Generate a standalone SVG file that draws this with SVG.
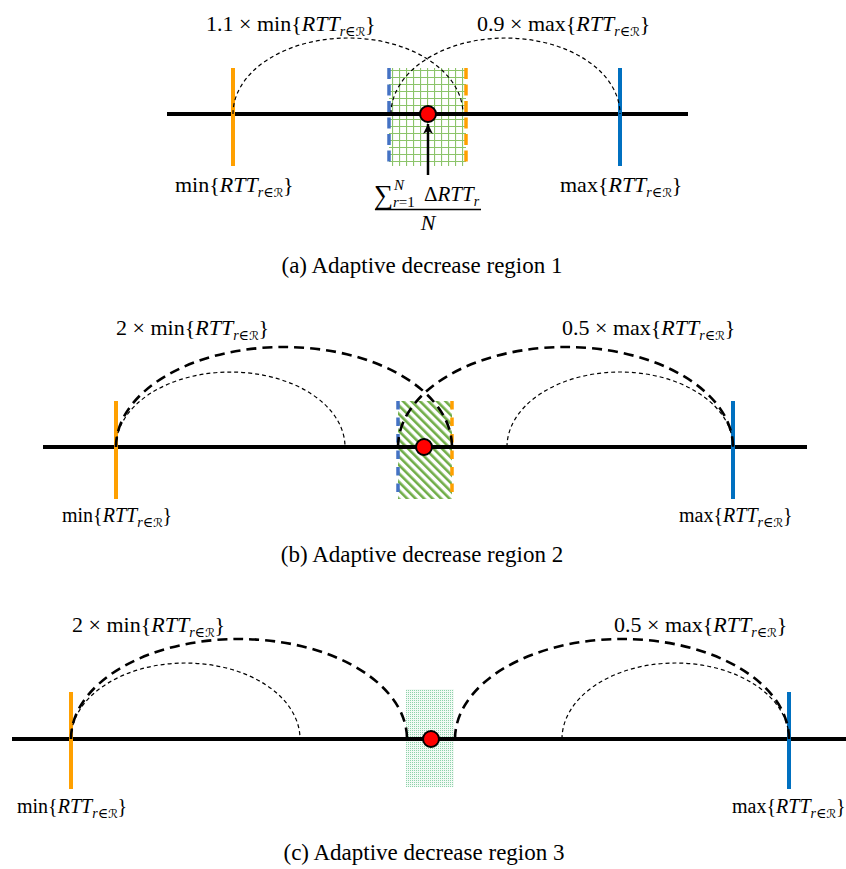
<svg xmlns="http://www.w3.org/2000/svg" width="846" height="869" viewBox="0 0 846 869">
<defs>
<style>
.axis{stroke:#000;stroke-width:4;fill:none}
.tick-o{stroke:#FFA000;stroke-width:4;fill:none}
.tick-b{stroke:#0070C0;stroke-width:4;fill:none}
.edge-b{stroke:#4472C4;stroke-width:3.5;fill:none}
.edge-o{stroke:#FFA000;stroke-width:3.5;fill:none}
.thin{stroke:#000;stroke-width:1.2;stroke-dasharray:4 3;fill:none}
.thick{stroke:#000;stroke-width:2.6;stroke-dasharray:10 6;fill:none}
.dot{fill:#FF0000;stroke:#000;stroke-width:2}
.m{font-family:"Liberation Serif","DejaVu Serif",serif;font-size:22px;fill:#000}
.s{font-size:20px}
.it{font-style:italic}
.sub{font-size:14px;font-style:italic}
.cal{font-family:"DejaVu Sans",sans-serif;font-style:normal;font-size:12px}
.cap{font-family:"Liberation Serif","DejaVu Serif",serif;font-size:23px;fill:#000;text-anchor:middle}
</style>
<pattern id="grid" width="7" height="7" patternUnits="userSpaceOnUse">
<rect width="7" height="7" fill="#fff"/>
<path d="M0 0.5H7M0.5 0V7" stroke="#8CC46A" stroke-width="1.2"/>
</pattern>
<pattern id="diag" width="6" height="6" patternUnits="userSpaceOnUse" patternTransform="rotate(-45)">
<rect width="6" height="6" fill="#fff"/>
<rect x="0" y="0" width="2.6" height="6" fill="#70AD47"/>
</pattern>
<pattern id="dots" width="2" height="2" patternUnits="userSpaceOnUse">
<rect width="2" height="2" fill="#F2FAF5"/>
<rect width="1" height="1" fill="#8ED2AA"/>
</pattern>
<marker id="arr" markerWidth="12" markerHeight="12" refX="10" refY="5" orient="auto" markerUnits="userSpaceOnUse">
<path d="M0,0 L10,5 L0,10 L3,5 z" fill="#000"/>
</marker>
</defs>

<!-- Panel (a) -->
<g id="panel-a">
<g id="a-region">
<rect x="389" y="68" width="77" height="98" fill="url(#grid)"/>
<line class="edge-b" x1="389" y1="68" x2="389" y2="166" stroke-dasharray="11 5.5"/>
<line class="edge-o" x1="466" y1="68" x2="466" y2="166" stroke-dasharray="11 5.5"/>
</g>
<line id="a-axis" class="axis" x1="167" y1="114" x2="688" y2="114"/>
<g id="a-min"><line class="tick-o" x1="233" y1="68" x2="233" y2="166"/>
<text class="m" x="175" y="192">min{<tspan class="it">RTT</tspan><tspan class="sub" dy="5">r∈<tspan class="cal">ℛ</tspan></tspan><tspan dy="-5">}</tspan></text></g>
<g id="a-max"><line class="tick-b" x1="620" y1="68" x2="620" y2="166"/>
<text class="m" x="560" y="192">max{<tspan class="it">RTT</tspan><tspan class="sub" dy="5">r∈<tspan class="cal">ℛ</tspan></tspan><tspan dy="-5">}</tspan></text></g>
<text class="m" x="206" y="31">1.1 × min{<tspan class="it">RTT</tspan><tspan class="sub" dy="5">r∈<tspan class="cal">ℛ</tspan></tspan><tspan dy="-5">}</tspan></text>
<text class="m" x="477" y="31">0.9 × max{<tspan class="it">RTT</tspan><tspan class="sub" dy="5">r∈<tspan class="cal">ℛ</tspan></tspan><tspan dy="-5">}</tspan></text>
<g id="a-avg">
<text class="m"><tspan x="374" y="204" font-size="27">∑</tspan><tspan x="394" y="190" font-size="15" class="it">N</tspan><tspan x="393" y="207" font-size="15"><tspan class="it">r</tspan>=1</tspan><tspan x="424" y="201" font-size="21">Δ</tspan><tspan class="it" font-size="21">RTT</tspan><tspan class="sub" dy="5">r</tspan></text>
<line x1="375" y1="209.5" x2="481" y2="209.5" stroke="#000" stroke-width="1.3"/>
<text class="m it" x="428" y="230" text-anchor="middle">N</text>
</g>
<text class="cap" x="422" y="273">(a) Adaptive decrease region 1</text>
</g>

<!-- Panel (b) -->
<g id="panel-b">
<g id="b-region">
<rect x="398" y="401" width="54" height="98" fill="url(#diag)"/>
<line class="edge-b" x1="398" y1="401" x2="398" y2="499" stroke-dasharray="8.5 8"/>
<line class="edge-o" x1="452" y1="401" x2="452" y2="499" stroke-dasharray="8.5 8"/>
</g>
<line id="b-axis" class="axis" x1="43" y1="447" x2="807" y2="447"/>
<g id="b-min"><line class="tick-o" x1="116" y1="401" x2="116" y2="499"/>
<text class="m s" x="62" y="522">min{<tspan class="it">RTT</tspan><tspan class="sub" dy="5">r∈<tspan class="cal">ℛ</tspan></tspan><tspan dy="-5">}</tspan></text></g>
<g id="b-max"><line class="tick-b" x1="733" y1="401" x2="733" y2="499"/>
<text class="m s" x="679" y="522">max{<tspan class="it">RTT</tspan><tspan class="sub" dy="5">r∈<tspan class="cal">ℛ</tspan></tspan><tspan dy="-5">}</tspan></text></g>
<text class="m" x="116" y="335">2 × min{<tspan class="it">RTT</tspan><tspan class="sub" dy="5">r∈<tspan class="cal">ℛ</tspan></tspan><tspan dy="-5">}</tspan></text>
<text class="m" x="562" y="335">0.5 × max{<tspan class="it">RTT</tspan><tspan class="sub" dy="5">r∈<tspan class="cal">ℛ</tspan></tspan><tspan dy="-5">}</tspan></text>
<text class="cap" x="422" y="562">(b) Adaptive decrease region 2</text>
</g>

<!-- Panel (c) -->
<g id="panel-c">
<g id="c-region">
<rect x="406" y="689" width="48" height="98" fill="url(#dots)"/>
</g>
<line id="c-axis" class="axis" x1="12" y1="739" x2="846" y2="739"/>
<g id="c-min"><line class="tick-o" x1="71" y1="692" x2="71" y2="789"/>
<text class="m s" x="17" y="813">min{<tspan class="it">RTT</tspan><tspan class="sub" dy="5">r∈<tspan class="cal">ℛ</tspan></tspan><tspan dy="-5">}</tspan></text></g>
<g id="c-max"><line class="tick-b" x1="789" y1="692" x2="789" y2="789"/>
<text class="m s" x="732" y="813">max{<tspan class="it">RTT</tspan><tspan class="sub" dy="5">r∈<tspan class="cal">ℛ</tspan></tspan><tspan dy="-5">}</tspan></text></g>
<text class="m" x="72" y="632">2 × min{<tspan class="it">RTT</tspan><tspan class="sub" dy="5">r∈<tspan class="cal">ℛ</tspan></tspan><tspan dy="-5">}</tspan></text>
<text class="m" x="614" y="632">0.5 × max{<tspan class="it">RTT</tspan><tspan class="sub" dy="5">r∈<tspan class="cal">ℛ</tspan></tspan><tspan dy="-5">}</tspan></text>
<text class="cap" x="424" y="860">(c) Adaptive decrease region 3</text>
</g>

<!-- Connectors -->
<g id="connectors">
<path class="thin" d="M233 114 A115 76 0 0 1 463 114"/>
<path class="thin" d="M391 114 A114.5 76 0 0 1 620 114"/>
<line x1="428" y1="175" x2="428" y2="124" stroke="#000" stroke-width="2.5" marker-end="url(#arr)"/>
<path class="thick" d="M116 447 A168 100 0 0 1 452 447"/>
<path class="thick" d="M398 447 A167.5 100 0 0 1 733 447"/>
<path class="thin" d="M116 447 A114.5 75 0 0 1 345 447"/>
<path class="thin" d="M507 447 A113 75 0 0 1 733 447"/>
<path class="thick" d="M71 739 A168 100 0 0 1 407 739"/>
<path class="thick" d="M455 739 A167 100 0 0 1 789 739"/>
<path class="thin" d="M71 739 A114.5 76 0 0 1 300 739"/>
<path class="thin" d="M562 739 A113.5 76 0 0 1 789 739"/>
</g>

<g id="points">
<circle id="a-point" class="dot" cx="428" cy="114" r="8"/>
<circle id="b-point" class="dot" cx="424" cy="447" r="8"/>
<circle id="c-point" class="dot" cx="431" cy="739" r="8"/>
</g>
</svg>
